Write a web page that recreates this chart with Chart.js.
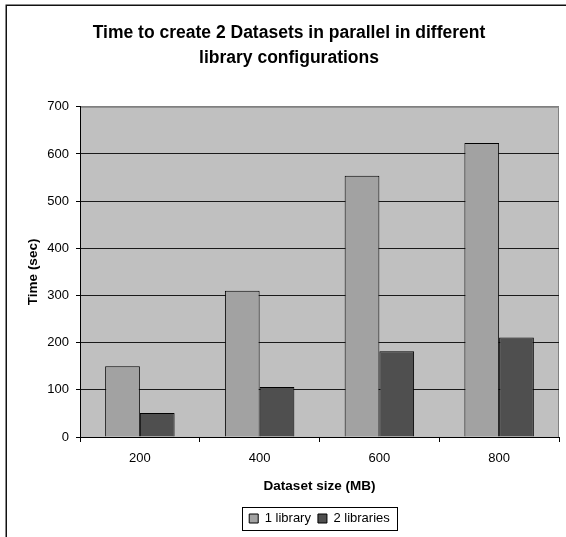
<!DOCTYPE html>
<html>
<head>
<meta charset="utf-8">
<script src="https://cdn.jsdelivr.net/npm/chart.js@4.4.0/dist/chart.umd.min.js"></script>
<style>
  html, body { margin: 0; padding: 0; background: #fff; }
  #wrap { width: 566px; height: 537px; }
</style>
</head>
<body>
<div id="wrap"><canvas id="myChart" width="566" height="537"></canvas></div>
<script>
// chart data
var sizes = ["200", "400", "600", "800"];
var oneLibrary = [150, 310, 554, 623];
var twoLibraries = [51, 106, 182, 211];
var titleLines = ["Time to create 2 Datasets in parallel in different", "library configurations"];

// grey plot area + outer frame, like the old spreadsheet chart
const bgPlugin = {
  id: "bg",
  beforeDraw(chart) {
    const ctx = chart.ctx;
    const a = chart.chartArea;
    ctx.save();
    ctx.fillStyle = "#fff";
    ctx.fillRect(0, 0, chart.width, chart.height);
    ctx.strokeStyle = "#111";
    ctx.lineWidth = 1.5;
    ctx.strokeRect(6.25, 5.25, 700, 700);
    ctx.fillStyle = "#C0C0C0";
    ctx.fillRect(a.left, a.top, a.right - a.left, a.bottom - a.top);
    ctx.strokeStyle = "#808080";
    ctx.lineWidth = 1;
    ctx.beginPath();
    ctx.moveTo(a.left, a.top + 0.5);
    ctx.lineTo(a.right - 0.5, a.top + 0.5);
    ctx.lineTo(a.right - 0.5, a.bottom);
    ctx.stroke();
    ctx.restore();
  },
  afterDraw(chart) {
    // box round the legend
    const boxes = chart.legend.legendHitBoxes;
    if (!boxes || !boxes.length) return;
    let l = Infinity, r = -Infinity, t = Infinity, b = -Infinity;
    boxes.forEach((h) => {
      l = Math.min(l, h.left);
      r = Math.max(r, h.left + h.width);
      t = Math.min(t, h.top);
      b = Math.max(b, h.top + h.height);
    });
    const ctx = chart.ctx;
    ctx.save();
    ctx.strokeStyle = "#000";
    ctx.lineWidth = 1;
    ctx.strokeRect(Math.round(l - 7) + 0.5, Math.round(t - 5) + 0.5, Math.round(r - l + 14), Math.round(b - t + 10));
    ctx.restore();
  },
};

const ctx = document.getElementById("myChart");
new Chart(ctx, {
  type: "bar",
  data: {
    labels: sizes,
    datasets: [
      {
        label: "1 library",
        data: oneLibrary,
        backgroundColor: "#A2A2A2",
        borderColor: "#000",
        borderWidth: 1,
        categoryPercentage: 0.58,
        barPercentage: 1.0,
      },
      {
        label: "2 libraries",
        data: twoLibraries,
        backgroundColor: "#4F4F4F",
        borderColor: "#000",
        borderWidth: 1,
        categoryPercentage: 0.58,
        barPercentage: 1.0,
      },
    ],
  },
  options: {
    responsive: false,
    animation: false,
    layout: { padding: { left: 19, right: 7, top: 14, bottom: 2 } },
    plugins: {
      title: {
        display: true,
        text: titleLines,
        color: "#000",
        font: { family: "'Liberation Sans', Arial", size: 17.5, weight: "bold", lineHeight: 1.45 },
        padding: { top: 6, bottom: 36 },
      },
      legend: {
        position: "bottom",
        fullSize: false,
        labels: {
          color: "#000",
          boxWidth: 9,
          boxHeight: 9,
          padding: 7,
          font: { family: "'Liberation Sans', Arial", size: 13 },
        },
      },
      tooltip: { enabled: false },
    },
    scales: {
      x: {
        grid: {
          drawOnChartArea: false,
          drawTicks: true,
          tickLength: 5,
          color: "#000",
        },
        border: { color: "#000", width: 1 },
        ticks: {
          color: "#000",
          padding: 9,
          font: { family: "'Liberation Sans', Arial", size: 13 },
        },
        title: {
          display: true,
          text: "Dataset size (MB)",
          color: "#000",
          font: { family: "'Liberation Sans', Arial", size: 13.5, weight: "bold" },
          padding: { top: 0, bottom: 11 },
        },
        afterFit(scale) {
          scale.height = 68;
        },
      },
      y: {
        min: 0,
        max: 700,
        ticks: {
          stepSize: 100,
          color: "#000",
          padding: 7,
          font: { family: "'Liberation Sans', Arial", size: 13 },
        },
        grid: {
          color: (c) => (c.tick && c.tick.value === 700 ? "#808080" : "#1a1a1a"),
          tickColor: "#000",
          tickLength: 4,
          lineWidth: 1,
        },
        border: { color: "#000", width: 1 },
        title: {
          display: true,
          text: "Time (sec)",
          color: "#000",
          font: { family: "'Liberation Sans', Arial", size: 13.5, weight: "bold" },
          padding: { top: 6, bottom: 0 },
        },
        afterFit(scale) {
          scale.width = 61;
        },
      },
    },
  },
  plugins: [bgPlugin],
});
</script>
</body>
</html>
